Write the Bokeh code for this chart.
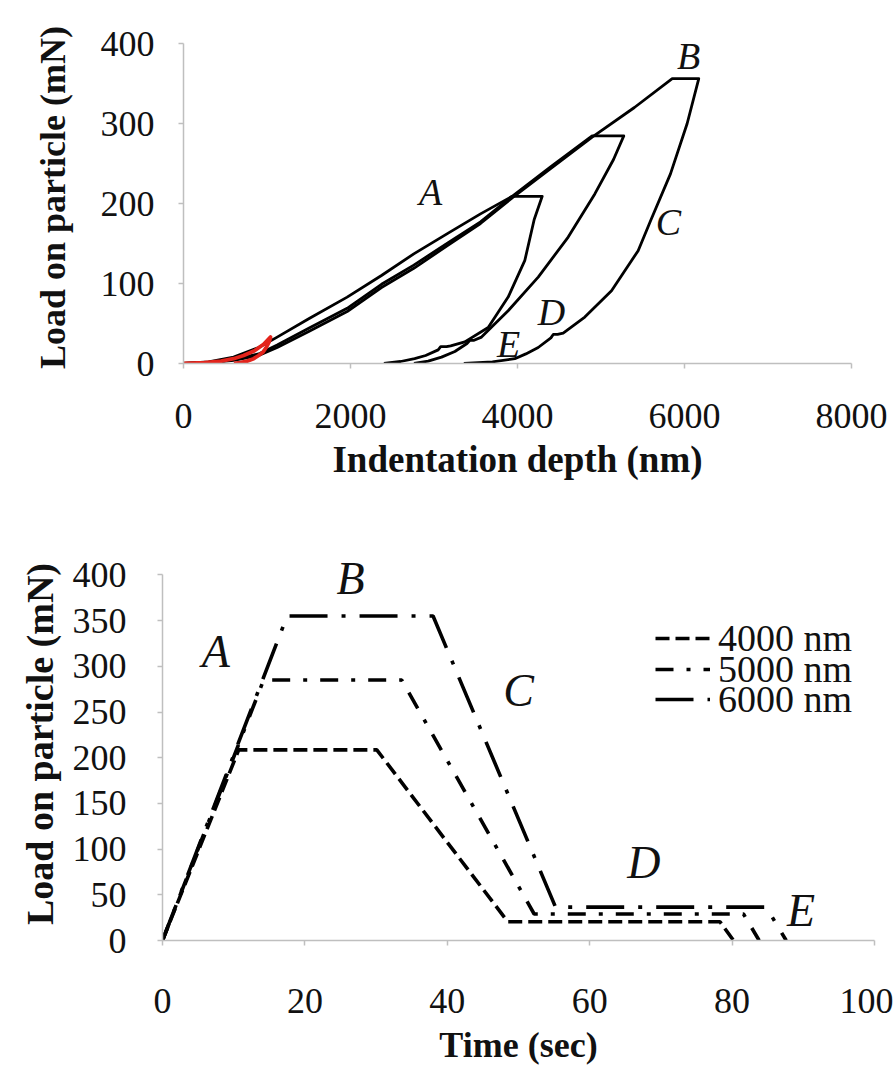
from bokeh.plotting import figure
from bokeh.models import Range1d, Label, Legend, LegendItem, FixedTicker
from bokeh.embed import file_html
from bokeh.resources import INLINE

FONT = "Liberation Serif"

# ---------------- Top chart data: load vs indentation depth ----------------
depth_ticks = [0, 2000, 4000, 6000, 8000]
load_ticks_top = [0, 100, 200, 300, 400]

# small preliminary loop (red)
red_depth = [0, 250, 450, 600, 720, 850, 960, 1042, 1030, 990, 950, 900, 840, 760, 680, 604]
red_load = [0, 1, 3, 6, 10, 16, 24, 33, 28, 20, 14, 10, 6, 3, 1, 0]

# 4000 nm test
d4000 = [0, 300, 600, 900, 1122, 1500, 1960, 2371, 2758, 3170, 3557, 3936,
         4296, 4200, 4088, 3888, 3649, 3369, 3200, 3150, 3080, 3050, 2900, 2768, 2600, 2400]
p4000 = [0, 2, 8, 20, 33, 56, 83, 110, 137, 163, 187, 209,
         209, 180, 129, 83, 45, 27, 22, 21, 21, 17, 10, 6, 2.5, 0]

# 5000 nm test
d5000 = [0, 300, 600, 900, 1122, 1500, 1960, 2371, 2758, 3170, 3557, 3936, 4400, 4894,
         5273, 5150, 4926, 4607, 4248, 3888, 3569, 3480, 3430, 3395, 3250, 3090, 2930, 2760]
p5000 = [0, 1, 5, 12, 23, 44, 69, 99, 123, 151, 177, 209, 246, 284.5,
         284.5, 255, 212, 158, 108, 66, 33, 29, 29, 25, 15, 8, 3, 0]

# 6000 nm test
d6000 = [0, 300, 600, 900, 1122, 1500, 1960, 2371, 2758, 3170, 3557, 3936, 4400, 4894, 5400, 5853,
         6171, 6032, 5832, 5600, 5445, 5126, 4806, 4547, 4480, 4430, 4400, 4248, 4100, 3968, 3700, 3357]
p6000 = [0, 1, 4, 10, 20, 40, 65, 95, 119, 148, 175, 207, 244, 283, 320, 356,
         356, 300, 237, 180, 141, 91, 58, 38, 36.5, 36.5, 32, 20, 12, 6, 2, 0]

top_letters = ["A", "B", "C", "D", "E"]
top_letter_x = [2958, 6048, 5808, 4407, 3892]
top_letter_y = [214, 385, 177, 64, 24]

# ---------------- Bottom chart data: load vs time ----------------
time_ticks = [0, 20, 40, 60, 80, 100]
load_ticks_bot = [0, 50, 100, 150, 200, 250, 300, 350, 400]

t4000 = [0, 10.7, 30.1, 48.5, 78.3, 80.2]
l4000 = [0, 208.6, 208.6, 20.5, 20.5, 0]
t5000 = [0, 14.2, 33.6, 52.2, 81.6, 83.8]
l5000 = [0, 285, 285, 29, 29, 0]
t6000 = [0, 17.5, 38.0, 55.2, 84.8, 87.6]
l6000 = [0, 355, 355, 36.5, 36.5, 0]
series_names = ["4000 nm", "5000 nm", "6000 nm"]

bot_letters = ["B", "A", "C", "D", "E"]
bot_letter_x = [26.4, 7.5, 50.0, 67.6, 89.7]
bot_letter_y = [396, 316, 273.5, 85, 33]

AXIS_GRAY = "#BFBFBF"


def style_axes(p, tick_fs, xtitle_fs, ytitle_fs, x_stand, y_stand, x_title_stand, y_title_stand):
    for ax in (p.xaxis[0], p.yaxis[0]):
        ax.axis_line_color = AXIS_GRAY
        ax.axis_line_width = 1.5
        ax.major_tick_line_color = AXIS_GRAY
        ax.major_tick_line_width = 1.5
        ax.major_tick_in = 0
        ax.major_tick_out = 5
        ax.minor_tick_line_color = None
        ax.major_label_text_font = FONT
        ax.major_label_text_font_size = tick_fs
        ax.major_label_text_color = "#111111"
        ax.axis_label_text_font = FONT
        ax.axis_label_text_font_style = "bold"
        ax.axis_label_text_color = "#111111"
    p.xaxis[0].axis_label_text_font_size = xtitle_fs
    p.yaxis[0].axis_label_text_font_size = ytitle_fs
    p.xaxis[0].major_label_standoff = x_stand
    p.yaxis[0].major_label_standoff = y_stand
    p.xaxis[0].axis_label_standoff = x_title_stand
    p.yaxis[0].axis_label_standoff = y_title_stand
    p.yaxis[0].bounds = (0, 400)
    p.xgrid.visible = False
    p.ygrid.visible = False
    p.outline_line_color = None


# ---------------- Top figure ----------------
p1 = figure(width=893, height=518, x_range=Range1d(0, 8000), y_range=Range1d(0, 415),
            output_backend="svg", toolbar_location=None,
            min_border_left=183, min_border_right=42, min_border_top=31, min_border_bottom=155,
            x_axis_label="Indentation depth (nm)", y_axis_label="Load on particle (mN)")
p1.xaxis.ticker = FixedTicker(ticks=depth_ticks)
p1.yaxis.ticker = FixedTicker(ticks=load_ticks_top)
style_axes(p1, "36px", "37px", "36px", 35, 24, 8, 25)

for d, pv in ((d4000, p4000), (d5000, p5000), (d6000, p6000)):
    p1.line(d, pv, line_color="black", line_width=2.8, line_join="round")
p1.line(red_depth, red_load, line_color="#E3231B", line_width=3.8, line_join="round")

for t, x, y in zip(top_letters, top_letter_x, top_letter_y):
    p1.add_layout(Label(x=x, y=y, text=t, text_font=FONT, text_font_style="italic",
                        text_font_size="38px", text_align="center", text_baseline="middle",
                        text_color="#111111"))

# ---------------- Bottom figure ----------------
p2 = figure(width=893, height=550, x_range=Range1d(0, 100), y_range=Range1d(0, 430),
            output_backend="svg", toolbar_location=None,
            min_border_left=162, min_border_right=19, min_border_top=29, min_border_bottom=128,
            x_axis_label="Time (sec)", y_axis_label="Load on particle (mN)")
p2.xaxis.ticker = FixedTicker(ticks=time_ticks)
p2.yaxis.ticker = FixedTicker(ticks=load_ticks_bot)
style_axes(p2, "36px", "36px", "38px", 43, 31, 9, 9)

r4 = p2.line(t4000, l4000, line_color="black", line_width=3.6, line_dash="14 6")
r5 = p2.line(t5000, l5000, line_color="black", line_width=3.6, line_dash="18 13 4 13")
r6 = p2.line(t6000, l6000, line_color="black", line_width=3.6, line_dash="38 14 4 14")

# one single-item legend per series, stacked tightly like the original
legend_y = [280, 249, 219]
for name, rend, ly in zip(series_names, (r4, r5, r6), legend_y):
    lg = Legend(items=[LegendItem(label=name, renderers=[rend])],
                location=(493, ly), padding=0, margin=0, spacing=0,
                glyph_width=55, glyph_height=20, label_height=20, label_standoff=8,
                label_text_font=FONT, label_text_font_size="38px",
                label_text_color="#111111",
                border_line_color=None, background_fill_alpha=0)
    p2.add_layout(lg)

for t, x, y in zip(bot_letters, bot_letter_x, bot_letter_y):
    p2.add_layout(Label(x=x, y=y, text=t, text_font=FONT, text_font_style="italic",
                        text_font_size="46px", text_align="center", text_baseline="middle",
                        text_color="#111111"))

open("out.html", "w").write(file_html([p1, p2], INLINE))
